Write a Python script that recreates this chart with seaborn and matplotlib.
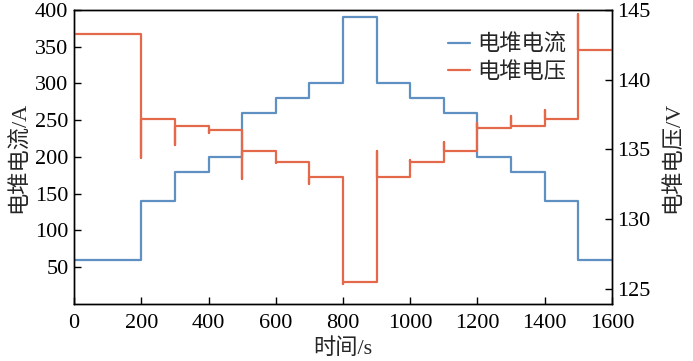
import matplotlib
matplotlib.use("Agg")
import matplotlib.pyplot as plt
import seaborn as sns

# step boundaries (s)
t_edges = [0, 200, 300, 400, 500, 600, 700, 800, 900, 1000, 1100, 1200, 1300, 1400, 1500, 1600]
# stack current (A) in each step
current = [60, 140, 180, 200, 260, 280, 300, 390, 300, 280, 260, 200, 180, 140, 60]
# stack voltage (V) in each step
voltage = [143.3, 137.2, 136.7, 136.4, 134.9, 134.1, 133.0, 125.45, 133.0, 134.1, 134.9, 136.5, 136.7, 137.2, 142.1]
# transient voltage peak at each step change (200 ... 1500 s)
voltage_peak = [134.4, 135.3, 136.2, 132.9, 134.0, 132.5, 125.3, 134.9, 134.2, 135.5, 136.9, 137.4, 137.8, 144.7]

# build step traces
t_i, i_vals = [], []
t_v, v_vals = [], []
for k in range(len(current)):
    t_i += [t_edges[k], t_edges[k + 1]]
    i_vals += [current[k], current[k]]
    if k > 0:
        t_v.append(t_edges[k])
        v_vals.append(voltage_peak[k - 1])
    t_v += [t_edges[k], t_edges[k + 1]]
    v_vals += [voltage[k], voltage[k]]

sns.set_theme(style="ticks")
fam = ["Liberation Serif", "Noto Sans CJK SC"]
plt.rcParams["font.family"] = fam
plt.rcParams["axes.unicode_minus"] = False

blue = "#5f90c2"
red = "#e3694a"

fig = plt.figure(figsize=(6.93, 3.61), dpi=100)
ax = fig.add_axes([0.1068, 0.158, 0.7763, 0.8143])
ax2 = ax.twinx()

sns.lineplot(x=t_i, y=i_vals, ax=ax, sort=False, estimator=None, color=blue, lw=1.6, label="电堆电流", legend=False)
sns.lineplot(x=t_v, y=v_vals, ax=ax2, sort=False, estimator=None, color=red, lw=1.6, label="电堆电压", legend=False)

ax.set_xlim(0, 1600)
ax.set_ylim(0, 400)
ax2.set_ylim(123.9, 145)
ax.set_xticks(range(0, 1601, 200))
ax.set_yticks(range(50, 401, 50))
ax2.set_yticks([125, 130, 135, 140, 145])

for a in (ax, ax2):
    a.tick_params(direction="in", labelsize=16, length=5, width=1, colors="black", pad=4)
    for s in a.spines.values():
        s.set_visible(True)
        s.set_color("black")
        s.set_linewidth(1)
ax.tick_params(axis="x", pad=7)

ax.set_xlabel("时间/s", fontsize=16, labelpad=4)
ax.set_ylabel("电堆电流/A", fontsize=16, labelpad=4)
ax2.set_ylabel("电堆电压/V", fontsize=16, labelpad=8)

h1, l1 = ax.get_legend_handles_labels()
h2, l2 = ax2.get_legend_handles_labels()
ax2.legend(h1 + h2, l1 + l2, loc="upper left", bbox_to_anchor=(0.695, 0.915),
           frameon=False, fontsize=16, handlelength=1.0, handletextpad=0.3,
           borderaxespad=0, borderpad=0, labelspacing=0.25)

fig.savefig("out.png", dpi=100)
